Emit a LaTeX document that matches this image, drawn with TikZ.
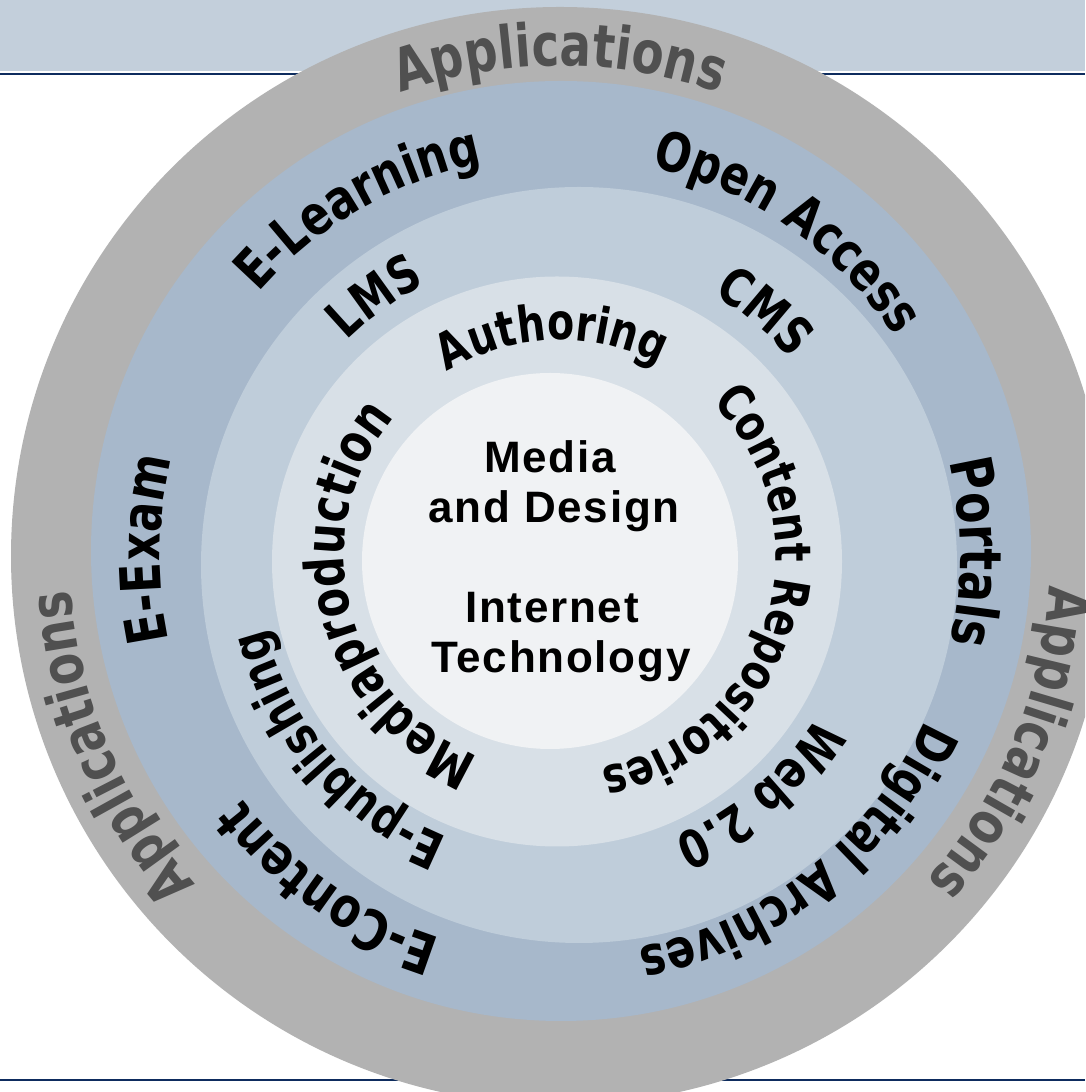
\documentclass[tikz,border=0pt]{standalone}
\usepackage{fontspec}
\usetikzlibrary{calc,decorations.text}
\newfontfamily\arcfont{DejaVu Sans Bold}[FakeStretch=0.79]
\newfontfamily\corefont{Liberation Sans Bold}[LetterSpace=4]
\definecolor{bandblue}{HTML}{C3CFDB}
\definecolor{linenavy}{HTML}{0E2C5E}
\definecolor{appgray}{HTML}{B2B2B2}
\definecolor{apptext}{HTML}{505050}
\definecolor{ringtwo}{HTML}{A7B8CB}
\definecolor{ringthree}{HTML}{BFCDDA}
\definecolor{ringfour}{HTML}{D8E0E7}
\definecolor{corewhite}{HTML}{F0F2F4}
\def\arclabel[#1](#2)(#3:#4:#5)#6{\path[decorate,decoration={text along path,text align=center,text color=#1,text={|\arcfont\fontsize{#5}{#5}\selectfont|#6}}] ($(#2)+({#4*cos(#3+80)},{#4*sin(#3+80)})$) arc (#3+80:#3-80:#4);}
\tikzset{coretext/.style={font=\corefont\fontsize{44}{50}\selectfont,anchor=base,inner sep=0pt}}

\begin{document}
\begin{tikzpicture}[x=1pt,y=1pt]
	%%%%% START %%%%%
	\def\W{1085}
	\def\H{1092}
	\def\rapp{490}
	\def\rtwo{400}
	\def\rthree{303}
	\def\rfour{216}
	
	\useasboundingbox (0,0) rectangle (\W,\H);
	\clip (0,0) rectangle (\W,\H);
	\fill[white] (0,0) rectangle (\W,\H);
	
	\fill[bandblue] (0,\H-71) rectangle (\W,\H);
	\draw[linenavy,line width=2.6pt] (0,\H-74) -- (\W,\H-74);
	\draw[linenavy,line width=2pt] (0,12) -- (\W,12);
	
	\coordinate (ctr) at (560,536);
	\coordinate (ctrtwo) at (561,541);
	\coordinate (ctrthree) at (579,527);
	\coordinate (ctrfour) at (557,530.5);
	\coordinate (ctrcore) at (550,531);
	
	\fill[appgray] (ctr) circle (549);
	\fill[ringtwo] (ctrtwo) circle (470);
	\fill[ringthree] (ctrthree) circle (378);
	\fill[ringfour] (ctrfour) circle (285);
	\fill[corewhite] (ctrcore) circle (188);
	
	\arclabel[apptext](ctr)(90:\rapp:59){Applications}
	\arclabel[apptext](ctr)(203:\rapp:59){Applications}
	\arclabel[apptext](ctr)(-22.5:\rapp:59){Applications}
	
	\arclabel[black](ctr)(120:\rtwo:55){E-Learning}
	\arclabel[black](ctr)(55:\rtwo:54){Open Access}
	\arclabel[black](ctr)(179:\rtwo:56){E-Exam}
	\arclabel[black](ctr)(0.5:\rtwo:58){Portals}
	\arclabel[black](ctr)(-51.5:\rtwo:54){Digital Archives}
	\arclabel[black](ctr)(235:\rtwo:56){E-Content}
	
	\arclabel[black](ctr)(125.5:\rthree:52){LMS}
	\arclabel[black](ctr)(50:\rthree:52){CMS}
	\arclabel[black](ctr)(221:\rthree:52){E-publishing}
	\arclabel[black](ctr)(-50:\rthree:52){Web 2.0}
	
	\arclabel[black](ctr)(92:\rfour:50){Authoring}
	\arclabel[black](ctr)(-17:\rfour:50){Content Repositories}
	\arclabel[black](ctr)(194:\rfour:54){Mediaproduction}
	
	\node[coretext] (media) at (550,619) {Media};
	\node[coretext] (design) at (554,569) {and Design};
	\node[coretext] (internet) at (552,469) {Internet};
	\node[coretext] (technology) at (561,419) {Technology};
	%%%%% END %%%%%
\end{tikzpicture}
\end{document}
